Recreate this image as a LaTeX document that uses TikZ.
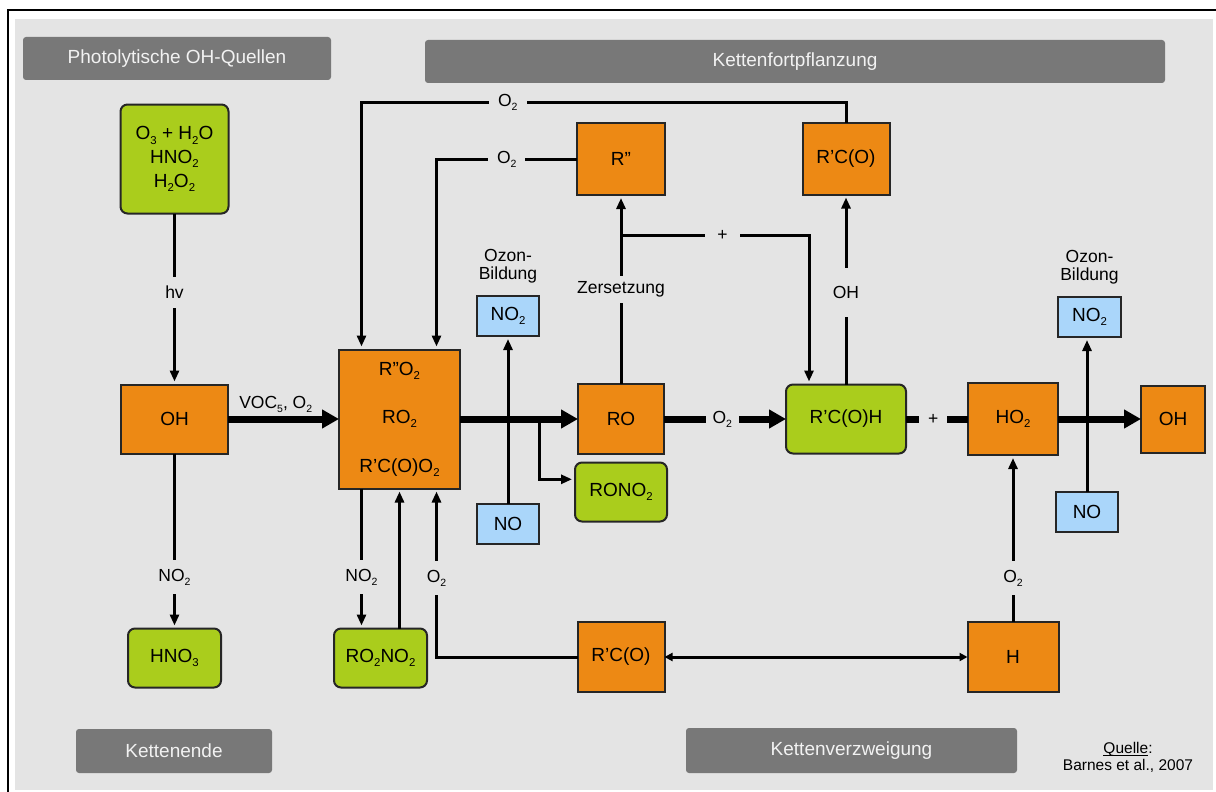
\documentclass[tikz,border=0pt]{standalone}
\usepackage{fontspec}
\setmainfont{Liberation Sans}
\usepackage{graphicx}
\usetikzlibrary{positioning,calc,arrows.meta}
\definecolor{bggray}{RGB}{228,228,228}
\definecolor{bannergray}{RGB}{120,120,120}
\definecolor{bannertext}{RGB}{242,242,242}
\definecolor{radorange}{RGB}{237,137,20}
\definecolor{prodgreen}{RGB}{170,205,28}
\definecolor{noblue}{RGB}{170,214,250}
\newcommand{\ix}[1]{\raisebox{-.22em}{\scalebox{.6}{#1}}}
\tikzset{
	smog/.style={x=1pt,y=-1pt,line width=3pt,
		>={Triangle[length=11pt,width=9pt]}},
	species/.style={draw=black!85,line width=2pt,outer sep=0pt,inner sep=0pt,
		align=center,font=\fontsize{19}{22}\selectfont},
	radical/.style={species,fill=radorange},
	product/.style={species,fill=prodgreen,rounded corners=7pt},
	nox/.style={species,fill=noblue},
	banner/.style={fill=bannergray,rounded corners=3pt,text=bannertext,
		font=\fontsize{19}{22}\selectfont},
	onedge/.style={fill=bggray,inner xsep=9pt,inner ysep=9pt,
		font=\fontsize{17.5}{19}\selectfont},
	ozon/.style={align=center,inner sep=0pt,font=\fontsize{17.5}{18.5}\selectfont},
	react/.style={->,shorten >=3pt},
	mainflow/.style={line width=7pt,-{Triangle[length=17pt,width=18pt]}},
	twoway/.style={line width=3pt,{Triangle[length=8pt,width=8pt]}-{Triangle[length=8pt,width=8pt]}}
}

\begin{document}
\begin{tikzpicture}[smog]
	\useasboundingbox (0,0) rectangle (1216,792);
	\draw[line width=2.5pt] (8,10) rectangle (1230,800);
	\fill[bggray] (15,19) rectangle (1213,790);
	
	% banners
	\node[banner,minimum width=308pt,minimum height=43pt] (quellen) at (177,58.5) {Photolytische OH-Quellen};
	\node[banner,minimum width=740pt,minimum height=43pt] (fortpfl) at (795,61.5) {Kettenfortpflanzung};
	\node[banner,minimum width=196pt,minimum height=44pt] (ende) at (174,751) {Kettenende};
	\node[banner,minimum width=331pt,minimum height=45pt] (verzw) at (851.5,750.5) {Kettenverzweigung};
	\node[align=center,font=\fontsize{15.5}{16.5}\selectfont] (quelle) at (1128,759) {\underline{\smash{Quelle}}:\\Barnes et al., 2007};
	
	% species
	\node[radical,minimum width=107pt,minimum height=69pt] (oh) at (174.5,419) {OH};
	\node[product,minimum width=108pt,minimum height=109pt,font=\fontsize{19}{23.7}\selectfont] (src) [above=171pt of oh] {O\ix{3} + H\ix{2}O\\HNO\ix{2}\\H\ix{2}O\ix{2}};
	\node[product,minimum width=93pt,minimum height=59pt] (hno3) [below=175pt of oh] {HNO\ix{3}};
	\node[radical,minimum width=121pt,minimum height=139pt,font=\fontsize{19}{48.5}\selectfont] (ro2) [right=111pt of oh] {R''O\ix{2}\\RO\ix{2}\\R'C(O)O\ix{2}};
	\node[product,minimum width=93pt,minimum height=59pt] (ro2no2) at (380.5,658) {RO\ix{2}NO\ix{2}};
	\node[radical,minimum width=86pt,minimum height=70pt] (ro) [right=118pt of ro2] {RO};
	\node[product,minimum width=92pt,minimum height=59pt] (rono2) [below=8.5pt of ro] {RONO\ix{2}};
	\node[radical,minimum width=88pt,minimum height=72pt] (rpp) [above=189pt of ro] {R''};
	\node[radical,minimum width=87pt,minimum height=70pt] (rcob) [below=168pt of ro] {R'C(O)};
	\node[product,minimum width=120pt,minimum height=69pt] (rcoh) [right=122pt of ro] {R'C(O)H};
	\node[radical,minimum width=87pt,minimum height=72pt] (rco) [above=190pt of rcoh] {R'C(O)};
	\node[radical,minimum width=90pt,minimum height=72pt] (ho2) [right=62pt of rcoh] {HO\ix{2}};
	\node[radical,minimum width=91pt,minimum height=70pt] (h) [below=167pt of ho2] {H};
	\node[radical,minimum width=64pt,minimum height=67pt] (ohr) [right=83pt of ho2] {OH};
	\node[nox,minimum width=62pt,minimum height=40pt] (no2l) at (508,316) {NO\ix{2}};
	\node[nox,minimum width=62pt,minimum height=40pt] (nol) [below=168pt of no2l] {NO};
	\node[nox,minimum width=63pt,minimum height=40pt] (no2r) at (1089.5,317) {NO\ix{2}};
	\node[nox,minimum width=62pt,minimum height=40pt] (nor) at (1087,512) {NO};
	\node[ozon] (ozl) [above=11pt of no2l] {Ozon-\\Bildung};
	\node[ozon] (ozr) [above=11pt of no2r] {Ozon-\\Bildung};
	
	% sources and chain end
	\draw[react] (src) -- node[onedge,pos=.46]{hv} (oh);
	\draw[react] (oh) -- node[onedge,pos=.706]{NO\ix{2}} (hno3);
	\draw[mainflow] (oh) -- node[above=2pt,inner sep=1pt,pos=.43,font=\fontsize{17.5}{19}\selectfont]{VOC\ix{5}, O\ix{2}} (ro2);
	
	% peroxy radicals
	\draw[react] (rco.north) -- ++(0,-20) -| node[onedge,pos=.349]{O\ix{2}} ([xshift=22.5pt]ro2.north west);
	\draw[react] (rpp.west) -| node[onedge,pos=.25]{O\ix{2}} ([xshift=97.5pt]ro2.north west);
	\coordinate (nitro) at ([xshift=22.5pt]ro2.south west);
	\draw[react] (nitro) -- node[onedge,pos=.632]{NO\ix{2}} (nitro |- ro2no2.north);
	\draw[react] (ro2.south |- ro2no2.north) -- (ro2.south);
	\draw[react] (rcob.west) -| node[onedge,pos=.734]{O\ix{2}} ([xshift=97.5pt]ro2.south west);
	
	% propagation
	\draw[mainflow] (ro2) -- (ro);
	\draw[react] (nol) -- (no2l);
	\coordinate (split) at ($(ro2.east)!0.672!(ro.west)$);
	\draw[react] (split) |- ([yshift=12.7pt]rono2.west);
	\draw[react] (ro) -- node[onedge,pos=.5,inner ysep=6pt]{Zersetzung} (rpp);
	\coordinate (fork) at ($(ro.north)!0.785!(rpp.south)$);
	\draw[react] (fork) -| node[onedge,pos=.27,inner xsep=12pt]{+} ([xshift=23pt]rcoh.north west);
	\draw[mainflow] (ro) -- node[onedge,pos=.478,inner xsep=7pt]{O\ix{2}} (rcoh);
	\draw[react] (rcoh) -- node[onedge,pos=.485,inner ysep=18pt]{OH} (rco);
	\draw[line width=7pt] (rcoh) -- node[onedge,pos=.44]{+} (ho2);
	\draw[mainflow] (ho2) -- (ohr);
	\draw[react] (nor.north) -- (nor.north |- no2r.south);
	
	% branching
	\draw[twoway] (rcob) -- (h);
	\draw[react] (h) -- node[onedge,pos=.263]{O\ix{2}} (ho2);
\end{tikzpicture}
\end{document}
